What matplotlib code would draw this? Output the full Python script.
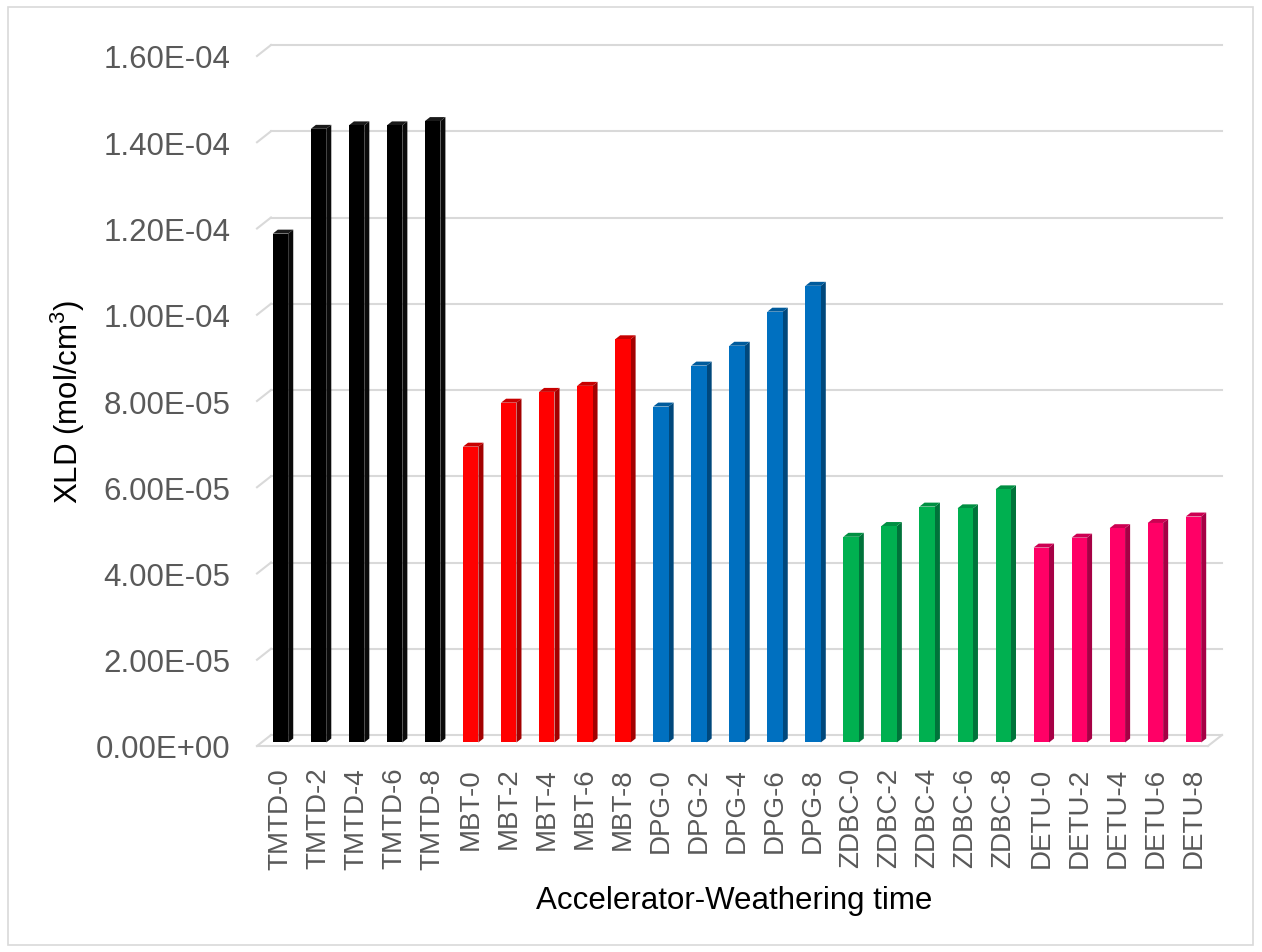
import matplotlib
matplotlib.use("Agg")
import matplotlib.pyplot as plt
from matplotlib.patches import Polygon, Rectangle
from matplotlib.lines import Line2D

plt.rcParams['font.family'] = ['Liberation Sans', 'DejaVu Sans']
plt.rcParams['mathtext.fontset'] = 'custom'
plt.rcParams['mathtext.rm'] = 'Liberation Sans'
plt.rcParams['mathtext.default'] = 'regular'

# ---- data -------------------------------------------------------------
accelerators = ["TMTD", "MBT", "DPG", "ZDBC", "DETU"]
times = [0, 2, 4, 6, 8]
categories = [f"{a}-{t}" for a in accelerators for t in times]

tmtd = [1.18e-4, 1.423e-4, 1.431e-4, 1.431e-4, 1.441e-4]
mbt = [6.86e-5, 7.88e-5, 8.13e-5, 8.27e-5, 9.35e-5]
dpg = [7.79e-5, 8.74e-5, 9.20e-5, 9.99e-5, 1.059e-4]
zdbc = [4.77e-5, 5.02e-5, 5.47e-5, 5.43e-5, 5.87e-5]
detu = [4.52e-5, 4.75e-5, 4.97e-5, 5.09e-5, 5.24e-5]
series = [tmtd, mbt, dpg, zdbc, detu]

y_ticks = [i * 2e-5 for i in range(9)]
y_tick_labels = ["0.00E+00", "2.00E-05", "4.00E-05", "6.00E-05", "8.00E-05",
                 "1.00E-04", "1.20E-04", "1.40E-04", "1.60E-04"]

# face / side / top shades per accelerator
face_colors = ["#000000", "#FF0000", "#0070C0", "#00B050", "#FF0066"]
side_colors = ["#0A0A0A", "#A30000", "#00487C", "#00733A", "#A60045"]
top_colors = ["#1A1A1A", "#C80000", "#005B9C", "#008F42", "#CC0052"]

# ---- figure & axes ----------------------------------------------------
W, H = 1262, 953
fig = plt.figure(figsize=(W / 100, H / 100), dpi=100)
fig.patch.set_facecolor("white")

ax_l, ax_r, ax_t, ax_b = 257, 1208, 57, 747
ax = fig.add_axes([ax_l / W, 1 - ax_b / H, (ax_r - ax_l) / W, (ax_b - ax_t) / H])
n = len(categories)
ax.set_xlim(-0.5, n - 0.5)
ax.set_ylim(0, 1.6e-4)
for s in ax.spines.values():
    s.set_visible(False)
ax.patch.set_visible(False)

px_x = (ax_r - ax_l) / n          # pixels per category
px_y = (ax_b - ax_t) / 1.6e-4     # pixels per unit value

# depth of the 3-D floor (pixels) in data units
DX = 14 / px_x
DY = 11 / px_y

grid_c = "#D9D9D9"
grid_lw = 1.5

# back-wall gridlines with the left-wall diagonals
for v in y_ticks:
    ax.add_line(Line2D([-0.5 + DX, n - 0.5 + DX], [v + DY, v + DY],
                       color=grid_c, lw=grid_lw, clip_on=False, zorder=1))
    ax.add_line(Line2D([-0.5, -0.5 + DX], [v, v + DY],
                       color=grid_c, lw=grid_lw, clip_on=False, zorder=1))
# floor front edge and right edge
ax.add_line(Line2D([-0.5, n - 0.5], [0, 0], color=grid_c, lw=grid_lw,
                   clip_on=False, zorder=1))
ax.add_line(Line2D([n - 0.5, n - 0.5 + DX], [0, DY], color=grid_c, lw=grid_lw,
                   clip_on=False, zorder=1))

# bars placed mid-depth
f0, f1 = 0.32, 0.68
ox, oy = f0 * DX, f0 * DY
bdx, bdy = (f1 - f0) * DX, (f1 - f0) * DY
half_w = 7.7 / px_x

idx = 0
for g, vals in enumerate(series):
    xs = [idx + k + ox for k in range(len(vals))]
    ax.bar(xs, vals, width=2 * half_w, bottom=oy, color=face_colors[g],
           zorder=3, clip_on=False, linewidth=0)
    for x, v in zip(xs, vals):
        xl, xr = x - half_w, x + half_w
        top = oy + v
        ax.add_patch(Polygon([(xr, oy), (xr + bdx, oy + bdy),
                              (xr + bdx, top + bdy), (xr, top)],
                             closed=True, facecolor=side_colors[g],
                             edgecolor="none", zorder=2, clip_on=False))
        ax.add_patch(Polygon([(xl, top), (xr, top), (xr + bdx, top + bdy),
                              (xl + bdx, top + bdy)],
                             closed=True, facecolor=top_colors[g],
                             edgecolor="none", zorder=2, clip_on=False))
    idx += len(vals)

# ticks
ax.set_yticks(y_ticks)
ax.set_yticklabels(y_tick_labels, fontsize=22.5, color="#595959")
ax.set_xticks([i + ox for i in range(n)])
ax.set_xticklabels(categories, rotation=90, fontsize=20, color="#595959")
ax.tick_params(axis="y", length=0, pad=19)
ax.tick_params(axis="x", length=0, pad=15)

# axis titles
fig.text(68 / W, 1 - 402 / H, "XLD (mol/cm$^{3}$)", rotation=90,
         ha="center", va="center", fontsize=22.5, color="black")
fig.text(734 / W, 1 - 901 / H, "Accelerator-Weathering time",
         ha="center", va="center", fontsize=22.5, color="black")

# chart-area border
fig.add_artist(Rectangle((8 / W, 1 - 946 / H), (1253 - 8) / W, (946 - 8) / H,
                         transform=fig.transFigure, fill=False,
                         edgecolor="#D9D9D9", lw=1.2))

fig.savefig("out.png", dpi=100, facecolor="white")
